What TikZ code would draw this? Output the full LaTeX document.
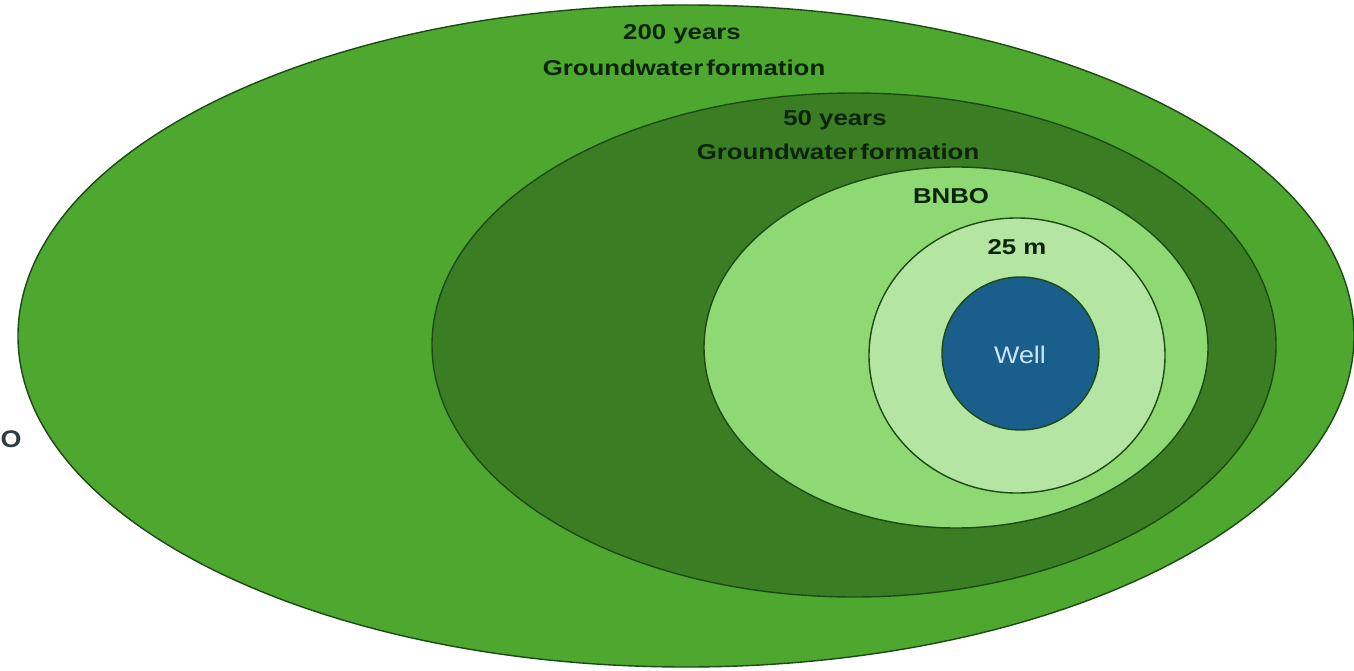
\documentclass[tikz,border=0pt]{standalone}
\usepackage{fontspec}
\usetikzlibrary{shapes.geometric}
\newfontfamily\labfont{Liberation Sans}[FakeStretch=1.2]
\newfontfamily\wellfont{Liberation Sans}[FakeStretch=1.12]
\definecolor{gOuter}{HTML}{4EA72E}
\definecolor{gFifty}{HTML}{3B7D23}
\definecolor{gBnbo}{HTML}{8ED973}
\definecolor{gTwentyFive}{HTML}{B4E5A2}
\definecolor{wellBlue}{HTML}{1A5E8B}
\definecolor{wellText}{HTML}{C8E6F6}
\definecolor{edgeGreen}{HTML}{1C4A14}
\definecolor{labDark}{HTML}{0B2409}
\definecolor{greyText}{HTML}{2E3C44}
\tikzset{
  zone/.style={ellipse, draw=edgeGreen, line width=1.4pt, inner sep=0pt},
  lab/.style={inner sep=0pt, text=labDark, font=\labfont\bfseries\fontsize{21.5}{24}\selectfont, anchor=base},
}
\begin{document}
\begin{tikzpicture}[x=1pt,y=-1pt]
\useasboundingbox (0,0) rectangle (1354,671);
\node[zone, fill=gOuter, minimum width=1336pt, minimum height=662pt] (outer) at (686,336) {};
\node[zone, fill=gFifty, minimum width=844pt, minimum height=504pt] (fifty) at (854,345) {};
\node[zone, fill=gBnbo, minimum width=504pt, minimum height=361pt] (bnbo) at (956,347.5) {};
\node[zone, fill=gTwentyFive, minimum width=296pt, minimum height=275pt] (tfm) at (1017,355.5) {};
\node[zone, fill=wellBlue, minimum width=157pt, minimum height=153pt] (well) at (1020.5,353.5) {};
\node[lab] (l200) at (682,39.5) {200 years};
\node[lab] (lgw1) at (684,76) {Groundwater\hspace{3pt}formation};
\node[lab] (l50) at (835,126) {50 years};
\node[lab] (lgw2) at (838,160) {Groundwater\hspace{3pt}formation};
\node[lab] (lbnbo) at (951,204) {BNBO};
\node[lab] (l25) at (1017,254) {25 m};
\node[inner sep=0pt, anchor=base, text=wellText, font=\wellfont\fontsize{24}{28}\selectfont] (lwell) at (1020,363) {Well};
\node[inner sep=0pt, anchor=base, text=greyText, font=\wellfont\bfseries\fontsize{24}{28}\selectfont] (lo) at (11,447) {O};
\end{tikzpicture}
\end{document}
